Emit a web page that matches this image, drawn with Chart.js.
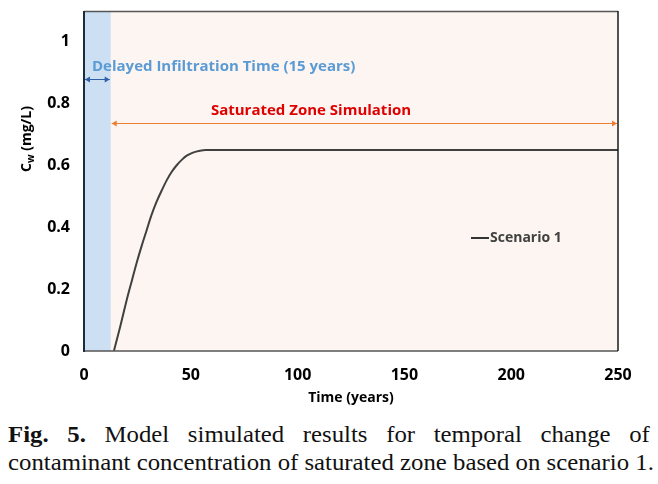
<!DOCTYPE html>
<html>
<head>
<meta charset="utf-8">
<script src="https://cdn.jsdelivr.net/npm/chart.js@4.4.1/dist/chart.umd.min.js"></script>
<style>
  html, body { margin: 0; padding: 0; background: #fff; overflow: hidden; }
  #wrap { position: relative; width: 658px; height: 410px; }
  .cap { font-family: "Liberation Serif", "Times New Roman", serif; font-size: 23px; color: #111;
         width: 596px; margin-left: 8px; line-height: 28px; transform: scaleX(1.077); transform-origin: left top; }
  .cap1 { text-align: justify; text-align-last: justify; margin-top: 11px; }
  .cap2 { white-space: nowrap; }
</style>
</head>
<body>
<div id="wrap"><canvas id="chart" width="658" height="410"></canvas></div>
<div class="cap cap1"><b>Fig. 5.</b> Model simulated results for temporal change of</div>
<div class="cap cap2">contaminant concentration of saturated zone based on scenario 1.</div>

<script>
/* ── data ── */
const years = [14, 17, 20, 22.5, 24.6, 27, 29.3, 31.5, 34, 36.5, 38.7, 41, 43.4, 46, 48.1, 51, 54.3, 57, 60.4, 80, 120, 160, 200, 250];
const scenario1 = [0, 0.08, 0.165, 0.23, 0.284, 0.34, 0.39, 0.438, 0.483, 0.521, 0.552, 0.579, 0.601, 0.62, 0.632, 0.642, 0.648, 0.65, 0.65, 0.65, 0.65, 0.65, 0.65, 0.65];

const xTicks = [0, 50, 100, 150, 200, 250];
const yTicks = [0, 0.2, 0.4, 0.6, 0.8, 1];

const delayRange = [0, 12.5];       // shaded delayed infiltration band
const delayArrowY = 0.88;
const satRange = [12.5, 250];      // saturated zone simulation arrow
const satArrowY = 0.738;

const boldFont = '"Open Sans", "Noto Sans", sans-serif';

/* ── annotations: band, arrows, texts, y title, frame ── */
const decorPlugin = {
  id: 'decor',
  beforeDatasetsDraw(chart) {
    const { ctx, chartArea: a, scales: { x, y } } = chart;
    ctx.save();
    ctx.fillStyle = '#fcf5f1';
    ctx.fillRect(a.left, a.top, a.right - a.left, a.bottom - a.top);
    const x0 = x.getPixelForValue(delayRange[0]);
    const x1 = x.getPixelForValue(delayRange[1]);
    ctx.fillStyle = '#cde0f3';
    ctx.fillRect(x0, a.top, x1 - x0, a.bottom - a.top);
    ctx.restore();
  },
  afterDatasetsDraw(chart) {
    const { ctx, chartArea: a, scales: { x, y } } = chart;
    ctx.save();

    function arrow(xa, xb, yy, color, head) {
      ctx.strokeStyle = color;
      ctx.fillStyle = color;
      ctx.lineWidth = 1;
      ctx.beginPath();
      ctx.moveTo(xa, yy); ctx.lineTo(xb, yy);
      ctx.stroke();
      [[xa, 1], [xb, -1]].forEach(([px, d]) => {
        ctx.beginPath();
        ctx.moveTo(px, yy);
        ctx.lineTo(px + d * head, yy - 3);
        ctx.lineTo(px + d * head, yy + 3);
        ctx.closePath();
        ctx.fill();
      });
    }

    // delayed infiltration arrow + label
    const dy = Math.round(y.getPixelForValue(delayArrowY)) + 0.5;
    arrow(x.getPixelForValue(delayRange[0]) + 1, x.getPixelForValue(delayRange[1]) - 1, dy, '#2f5fa8', 5);
    ctx.font = 'bold 15px ' + boldFont;
    ctx.fillStyle = '#5b9bd5';
    ctx.textBaseline = 'middle';
    ctx.textAlign = 'left';
    ctx.fillText('Delayed Infiltration Time (15 years)', x.getPixelForValue(delayRange[0]) + 8, dy - 13);

    // saturated zone arrow + label
    const sy = Math.round(y.getPixelForValue(satArrowY)) + 0.5;
    const sx0 = x.getPixelForValue(satRange[0]) + 1;
    const sx1 = x.getPixelForValue(satRange[1]) - 1;
    arrow(sx0, sx1, sy, '#ed7d31', 5);
    ctx.fillStyle = '#e00000';
    ctx.textAlign = 'center';
    ctx.fillText('Saturated Zone Simulation', 311, sy - 13);

    // legend
    ctx.strokeStyle = '#333';
    ctx.lineWidth = 2;
    ctx.beginPath();
    ctx.moveTo(471, 238); ctx.lineTo(489, 238);
    ctx.stroke();
    ctx.font = 'bold 14px ' + boldFont;
    ctx.fillStyle = '#404040';
    ctx.textAlign = 'left';
    ctx.fillText('Scenario 1', 490, 238);

    // frame
    ctx.lineWidth = 1.5;
    ctx.strokeStyle = '#555';
    ctx.beginPath();
    ctx.moveTo(a.left, a.top + 0.5); ctx.lineTo(a.right, a.top + 0.5);
    ctx.moveTo(a.left, a.bottom); ctx.lineTo(a.right, a.bottom);
    ctx.stroke();
    ctx.strokeStyle = '#1a1a1a';
    ctx.beginPath();
    ctx.moveTo(a.right, a.top); ctx.lineTo(a.right, a.bottom);
    ctx.stroke();
    ctx.strokeStyle = '#1d2b3a';
    ctx.lineWidth = 2;
    ctx.beginPath();
    ctx.moveTo(a.left, a.top); ctx.lineTo(a.left, a.bottom + 1);
    ctx.stroke();

    // y axis title with subscript
    ctx.translate(26, 139);
    ctx.rotate(-Math.PI / 2);
    ctx.fillStyle = '#000';
    ctx.font = 'bold 14px ' + boldFont;
    const wC = ctx.measureText('C').width;
    ctx.font = 'bold 10px ' + boldFont;
    const wW = ctx.measureText('w').width;
    ctx.font = 'bold 14px ' + boldFont;
    const wR = ctx.measureText(' (mg/L)').width;
    let tx = -(wC + wW + wR) / 2;
    ctx.textAlign = 'left';
    ctx.textBaseline = 'alphabetic';
    ctx.fillText('C', tx, 5);
    tx += wC;
    ctx.font = 'bold 10px ' + boldFont;
    ctx.fillText('w', tx, 8);
    tx += wW;
    ctx.font = 'bold 14px ' + boldFont;
    ctx.fillText(' (mg/L)', tx, 5);

    ctx.restore();
  }
};

new Chart(document.getElementById('chart'), {
  type: 'line',
  data: {
    datasets: [{
      label: 'Scenario 1',
      data: years.map((t, i) => ({ x: t, y: scenario1[i] })),
      borderColor: '#404040',
      borderWidth: 2,
      pointRadius: 0,
      cubicInterpolationMode: 'monotone',
      fill: false
    }]
  },
  options: {
    responsive: false,
    animation: false,
    layout: { padding: { top: 11, right: 40, left: 0, bottom: 0 } },
    plugins: { legend: { display: false }, tooltip: { enabled: false } },
    scales: {
      x: {
        type: 'linear',
        min: 0, max: 250,
        afterBuildTicks: s => { s.ticks = xTicks.map(v => ({ value: v })); },
        afterFit: s => { s.height = 59; s.paddingLeft = 0; s.paddingRight = 0; },
        grid: { display: false, drawTicks: false },
        border: { display: false },
        ticks: { color: '#000', padding: 15, maxRotation: 0, font: { family: boldFont, size: 16, weight: 'bold' } },
        title: { display: true, text: 'Time (years)', color: '#000', padding: { top: 2 }, font: { family: boldFont, size: 14, weight: 'bold' } }
      },
      y: {
        min: 0, max: 1.1,
        afterBuildTicks: s => { s.ticks = yTicks.map(v => ({ value: v })); },
        afterFit: s => { s.width = 84; s.paddingTop = 0; s.paddingBottom = 0; },
        grid: { display: false, drawTicks: false },
        border: { display: false },
        ticks: { color: '#000', padding: 14, callback: v => String(v), font: { family: boldFont, size: 16, weight: 'bold' } }
      }
    }
  },
  plugins: [decorPlugin]
});
</script>
</body>
</html>
